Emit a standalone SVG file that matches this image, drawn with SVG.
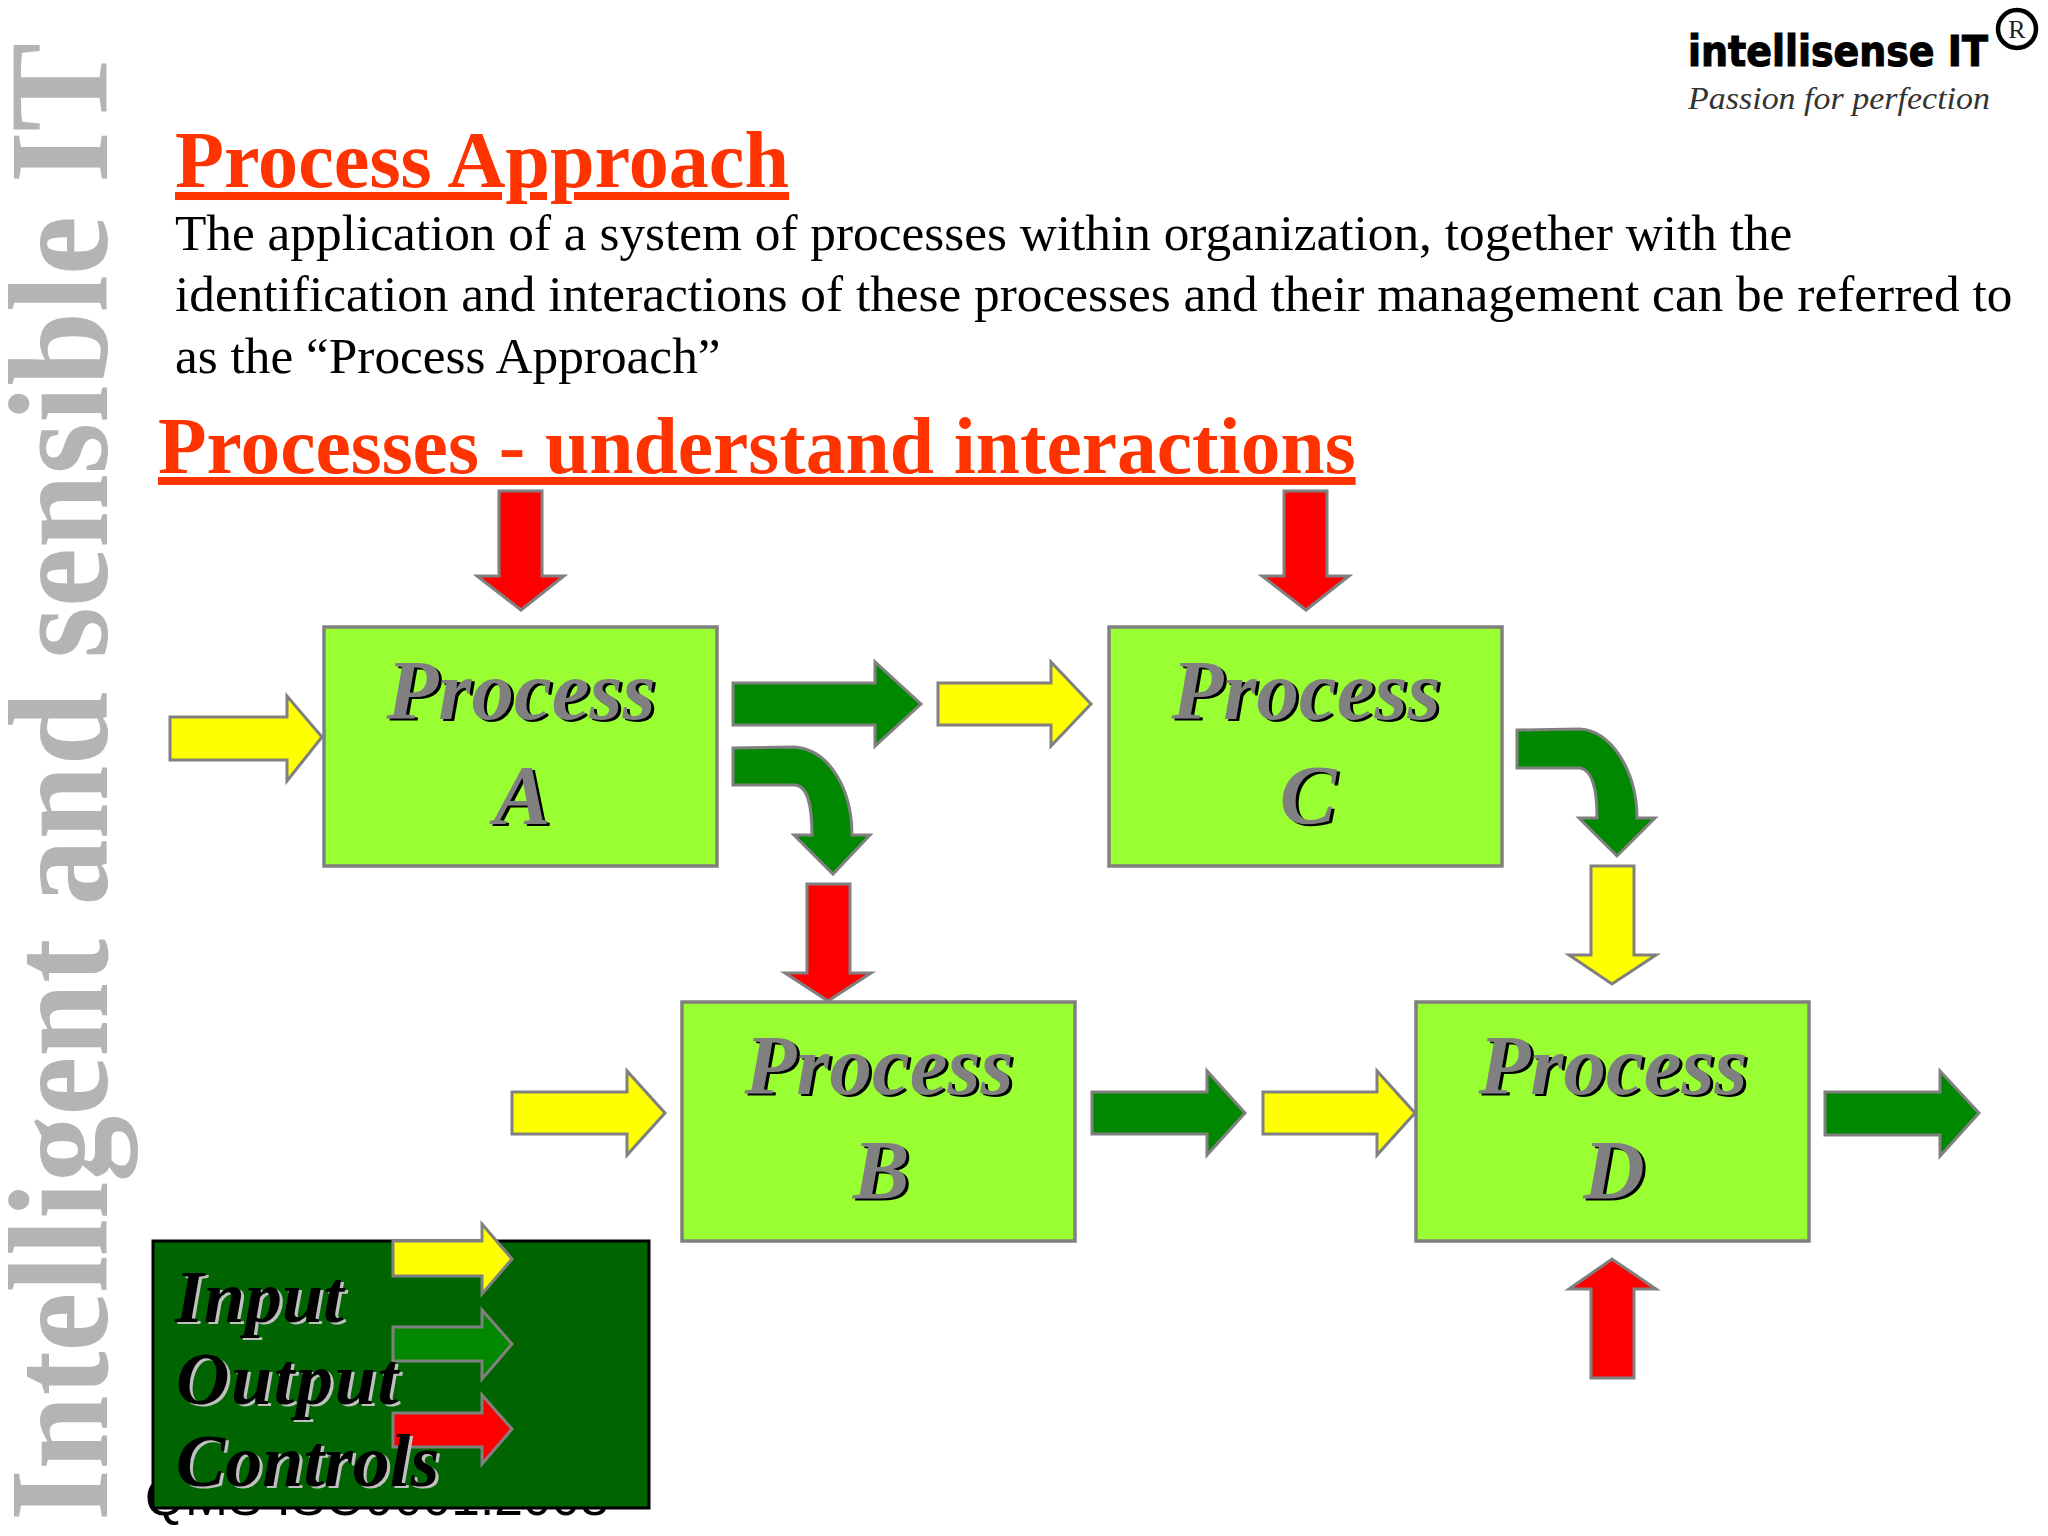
<svg xmlns="http://www.w3.org/2000/svg" width="2048" height="1536" viewBox="0 0 2048 1536">
<style>
.box{fill:#99ff33;stroke:#808080;stroke-width:3.5}
.arr{stroke:#808080;stroke-width:3;stroke-linejoin:miter}
.y{fill:#ffff00}.g{fill:#008800}.r{fill:#ff0000}
.pr{font-family:"Liberation Serif",serif;font-style:italic;font-weight:bold;font-size:85px;text-anchor:middle}
.fg{fill:#808080}.sh{fill:#000000}
.head{font-family:"Liberation Serif",serif;font-weight:bold;fill:#ff3300;text-decoration:underline;text-decoration-thickness:3px}
.body{font-family:"Liberation Serif",serif;font-size:51.3px;fill:#000000}
.leg{font-family:"Liberation Serif",serif;font-style:italic;font-weight:bold;font-size:74px}
</style>
<rect width="2048" height="1536" fill="#ffffff"/>
<text id="watermark" transform="translate(107,1521) rotate(-90) scale(0.941,1)" font-family="'Liberation Serif',serif" font-weight="bold" font-size="141" fill="#b4b4b4">Intelligent and sensible IT</text>
<g id="logo">
<text transform="translate(1688,66) scale(0.904,1)" font-family="'DejaVu Sans',sans-serif" font-weight="bold" font-size="42" fill="#000000" stroke="#000000" stroke-width="1.2">intellisense IT</text>
<circle cx="2017" cy="29" r="19" fill="#ffffff" stroke="#000000" stroke-width="4.5"/>
<text x="2017" y="38" font-family="'Liberation Serif',serif" font-size="26" fill="#222222" text-anchor="middle">R</text>
<text x="1688" y="109" font-family="'Liberation Serif',serif" font-style="italic" font-size="32" fill="#333333" textLength="302" lengthAdjust="spacingAndGlyphs">Passion for perfection</text>
</g>
<text class="head" x="175" y="187" font-size="80.2">Process Approach</text>
<text class="body" x="175" y="250">The application of a system of processes within organization, together with the</text>
<text class="body" x="175" y="311">identification and interactions of these processes and their management can be referred to</text>
<text class="body" x="175" y="373">as the “Process Approach”</text>
<text class="head" x="158" y="473" font-size="79.5">Processes - understand interactions</text>
<text id="footer" x="145" y="1515" font-family="'Liberation Sans',sans-serif" font-size="51.5" fill="#000000">QMS ISO9001:2008</text>
<g id="connectors">
<polygon class="arr r" points="499,491 542,491 542,576 564,576 521,610 477,576 499,576"/>
<polygon class="arr r" points="1284,491 1327,491 1327,576 1349,576 1306,610 1262,576 1284,576"/>
<polygon class="arr r" points="807,884 850,884 850,973 871,973 828,1001 785,973 807,973"/>
<polygon class="arr r" points="1591,1378 1634,1378 1634,1289 1656,1289 1612,1259 1569,1289 1591,1289"/>
<polygon class="arr y" points="170,717 287,717 287,696 322,737 287,781 287,760 170,760"/>
<polygon class="arr y" points="938,683 1051,683 1051,662 1091,704 1051,746 1051,725 938,725"/>
<polygon class="arr y" points="512,1092 627,1092 627,1071 665,1113 627,1155 627,1134 512,1134"/>
<polygon class="arr y" points="1263,1092 1377,1092 1377,1071 1415,1113 1377,1155 1377,1134 1263,1134"/>
<polygon class="arr y" points="1591,866 1634,866 1634,955 1656,955 1612,984 1569,955 1591,955"/>
<polygon class="arr g" points="733,683 875,683 875,662 921,704 875,746 875,725 733,725"/>
<polygon class="arr g" points="1092,1092 1207,1092 1207,1071 1245,1113 1207,1155 1207,1134 1092,1134"/>
<polygon class="arr g" points="1825,1092 1940,1092 1940,1071 1979,1113 1940,1156 1940,1135 1825,1135"/>
<path class="arr g" d="M733,748 L795,747 C830,750 852,790 852,835 L870,835 L833,874 L794,835 L812,835 C812,805 808,786 795,785 L733,785 Z"/>
<path class="arr g" d="M1517,730 L1580,729 C1610,730 1637,770 1637,818 L1655,818 L1617,856 L1579,818 L1597,818 C1597,790 1592,770 1580,768 L1517,768 Z"/>
</g>
<g id="process-a">
<rect class="box" x="324" y="627" width="393" height="239"/>
<text class="pr sh" x="524" y="721">Process</text><text class="pr fg" x="521" y="719">Process</text>
<text class="pr sh" x="525" y="826">A</text><text class="pr fg" x="522" y="824">A</text>
</g>
<g id="process-c">
<rect class="box" x="1109" y="627" width="393" height="239"/>
<text class="pr sh" x="1309" y="721">Process</text><text class="pr fg" x="1306" y="719">Process</text>
<text class="pr sh" x="1311" y="826">C</text><text class="pr fg" x="1308" y="824">C</text>
</g>
<g id="process-b">
<rect class="box" x="682" y="1002" width="393" height="239"/>
<text class="pr sh" x="882" y="1096">Process</text><text class="pr fg" x="879" y="1094">Process</text>
<text class="pr sh" x="884" y="1201">B</text><text class="pr fg" x="881" y="1199">B</text>
</g>
<g id="process-d">
<rect class="box" x="1416" y="1002" width="393" height="239"/>
<text class="pr sh" x="1616" y="1096">Process</text><text class="pr fg" x="1613" y="1094">Process</text>
<text class="pr sh" x="1617" y="1201">D</text><text class="pr fg" x="1614" y="1199">D</text>
</g>
<g id="legend">
<rect x="153" y="1241" width="496" height="267" fill="#006400" stroke="#000000" stroke-width="3"/>
<polygon class="arr y" points="393,1241 482,1241 482,1224 512,1259 482,1294 482,1276 393,1276"/>
<polygon class="arr g" points="393,1327 482,1327 482,1310 512,1344 482,1379 482,1361 393,1361"/>
<polygon class="arr r" points="393,1413 482,1413 482,1395 512,1429 482,1464 482,1447 393,1447"/>
<g class="leg">
<text x="178" y="1324" fill="#c0c0c0">Input</text><text x="175" y="1322" fill="#000000">Input</text>
<text x="179" y="1406" fill="#c0c0c0" textLength="222">Output</text><text x="176" y="1404" fill="#000000" textLength="222">Output</text>
<text x="179" y="1488" fill="#c0c0c0">Controls</text><text x="176" y="1486" fill="#000000">Controls</text>
</g>
</g>
</svg>
